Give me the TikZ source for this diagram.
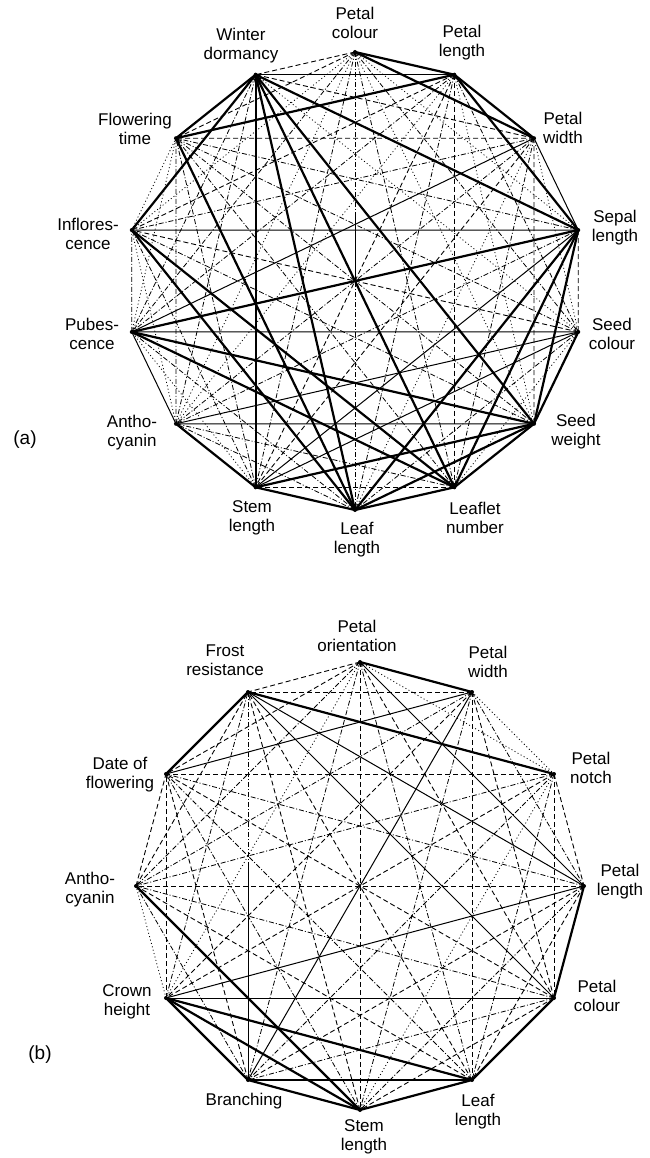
\documentclass[tikz,border=0pt]{standalone}
\usepackage{fontspec}
\setmainfont{Liberation Sans}
\usetikzlibrary{calc}
\begin{document}
\begin{tikzpicture}[x=1pt,y=-1pt,
  thk/.style={line width=2.2pt},
  thn/.style={line width=1pt},
  dsh/.style={line width=0.9pt,dash pattern=on 5pt off 3pt},
  ddt/.style={line width=0.8pt,dash pattern=on 5pt off 2pt on 1pt off 2pt},
  dtt/.style={line width=0.8pt,dash pattern=on 1pt off 2.5pt},
  lbl/.style={font=\fontsize{17}{19}\selectfont,align=center,inner sep=0pt},
  vdot/.style={circle,fill,inner sep=0pt,minimum size=4pt}]
\useasboundingbox (0,0) rectangle (649,1158);
% ---------- (a) ----------
\foreach \k in {0,...,13}{
  \node[vdot] (a\k) at ({355+229*cos(90-\k*360/14)},{281-229*sin(90-\k*360/14)}) {};
}
\foreach \i/\j/\s in {
 0/1/thk,0/2/thk,0/3/dtt,0/4/ddt,0/5/dtt,0/6/ddt,0/7/ddt,0/8/ddt,0/9/dtt,0/10/ddt,0/11/dtt,0/12/dsh,0/13/dsh,
 1/2/thk,1/3/thk,1/4/ddt,1/5/dtt,1/6/dsh,1/7/ddt,1/8/dsh,1/9/dtt,1/10/ddt,1/11/dsh,1/12/thk,1/13/thn,
 2/3/thn,2/4/dtt,2/5/dsh,2/6/ddt,2/7/dtt,2/8/dsh,2/9/ddt,2/10/thn,2/11/ddt,2/12/dsh,2/13/dsh,
 3/4/dsh,3/5/thk,3/6/thk,3/7/thk,3/8/thn,3/9/ddt,3/10/thk,3/11/thn,3/12/ddt,3/13/thk,
 4/5/thk,4/6/dtt,4/7/ddt,4/8/thn,4/9/thn,4/10/thn,4/11/dsh,4/12/ddt,4/13/dtt,
 5/6/thk,5/7/thk,5/8/thk,5/9/thn,5/10/thk,5/11/ddt,5/12/ddt,5/13/thk,
 6/7/thk,6/8/dsh,6/9/ddt,6/10/thk,6/11/thk,6/12/ddt,6/13/thk,
 7/8/thk,7/9/ddt,7/10/ddt,7/11/thk,7/12/thk,7/13/thk,
 8/9/thk,8/10/dtt,8/11/ddt,8/12/ddt,8/13/thk,
 9/10/thn,9/11/dtt,9/12/ddt,9/13/ddt,
 10/11/ddt,10/12/dtt,10/13/ddt,
 11/12/dtt,11/13/thk,
 12/13/thk}{
  \draw[\s] (a\i.center) -- (a\j.center);
}
\coordinate (am1) at ($(a0.center)!0.35!(a7.center)$);
\coordinate (am2) at ($(a0.center)!0.5!(a7.center)$);
\draw[thn] (am1) -- (am2);
\node[lbl] (la0) at (355,23) {Petal\\colour};
\node[lbl] (la1) at (462,43) {Petal\\length};
\node[lbl] (la2) at (563,128) {Petal\\width};
\node[lbl] (la3) at (615,228) {Sepal\\length};
\node[lbl] (la4) at (612,334) {Seed\\colour};
\node[lbl] (la5) at (576,432) {Seed\\weight};
\node[lbl] (la6) at (475,518) {Leaflet\\number};
\node[lbl] (la7) at (357,540) {Leaf\\length};
\node[lbl] (la8) at (252,518) {Stem\\length};
\node[lbl] (la9) at (132,433) {Antho-\\cyanin};
\node[lbl] (la10) at (92,334) {Pubes-\\cence};
\node[lbl] (la11) at (88,234) {Inflores-\\cence};
\node[lbl] (la12) at (135,129) {Flowering\\time};
\node[lbl] (la13) at (241,46) {Winter\\dormancy};
\node[lbl,font=\fontsize{19}{21}\selectfont] (tagA) at (25,440) {(a)};
% ---------- (b) ----------
\foreach \k in {0,...,11}{
  \node[vdot] (b\k) at ({360+224*cos(90-\k*30)},{886-224*sin(90-\k*30)}) {};
}
\foreach \i/\j/\s in {
 0/1/thk,0/2/dtt,0/3/thn,0/4/dsh,0/5/ddt,0/6/dsh,0/7/ddt,0/8/dtt,0/9/ddt,0/10/dsh,0/11/dsh,
 1/2/dtt,1/3/ddt,1/4/dsh,1/5/dsh,1/6/ddt,1/7/thn,1/8/dsh,1/9/ddt,1/10/thn,1/11/dsh,
 2/3/dsh,2/4/dsh,2/5/ddt,2/6/dtt,2/7/ddt,2/8/dsh,2/9/ddt,2/10/dsh,2/11/thk,
 3/4/thk,3/5/dsh,3/6/ddt,3/7/dsh,3/8/thn,3/9/dsh,3/10/ddt,3/11/thn,
 4/5/thk,4/6/dsh,4/7/ddt,4/8/thn,4/9/ddt,4/10/dsh,4/11/thn,
 5/6/thk,5/7/thk,5/8/thk,5/9/dsh,5/10/ddt,5/11/dsh,
 6/7/thk,6/8/thk,6/9/thk,6/10/ddt,6/11/dsh,
 7/8/thk,7/9/ddt,7/10/dsh,
 8/9/dtt,8/10/dsh,8/11/ddt,
 9/10/dsh,9/11/dsh,
 10/11/thk}{
  \draw[\s] (b\i.center) -- (b\j.center);
}
\coordinate (bm1) at ($(b11.center)!0.45!(b7.center)$);
\draw[ddt] (b11.center) -- (bm1);
\draw[thn] (bm1) -- (b7.center);
\node[lbl] (lb0) at (357,636) {Petal\\orientation};
\node[lbl] (lb1) at (488,662) {Petal\\width};
\node[lbl] (lb2) at (591,768) {Petal\\notch};
\node[lbl] (lb3) at (620,882) {Petal\\length};
\node[lbl] (lb4) at (597,996) {Petal\\colour};
\node[lbl] (lb5) at (478,1112) {Leaf\\length};
\node[lbl] (lb6) at (364,1137) {Stem\\length};
\node[lbl] (lb7) at (244,1101) {Branching};
\node[lbl] (lb8) at (127,1002) {Crown\\height};
\node[lbl] (lb9) at (90,890) {Antho-\\cyanin};
\node[lbl] (lb10) at (120,775) {Date of\\flowering};
\node[lbl] (lb11) at (225,660) {Frost\\resistance};
\node[lbl,font=\fontsize{19}{21}\selectfont] (tagB) at (40,1055) {(b)};
\end{tikzpicture}
\end{document}
